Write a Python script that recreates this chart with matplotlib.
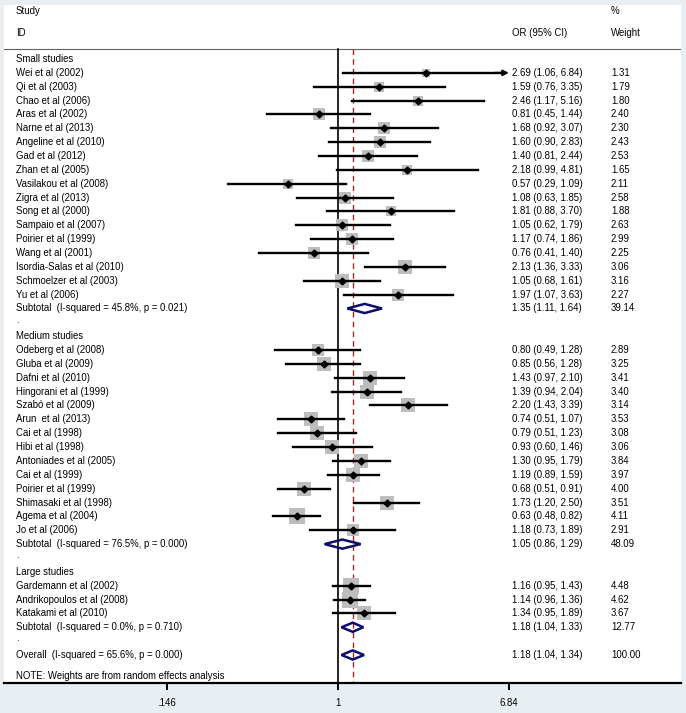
import numpy as np
import matplotlib
matplotlib.use("Agg")
import matplotlib.pyplot as plt
from matplotlib.transforms import blended_transform_factory
from matplotlib.patches import Polygon

plt.rcParams['font.family'] = ['Liberation Sans', 'DejaVu Sans']

# ---- data ----
small_ids = ["Wei et al (2002)", "Qi et al (2003)", "Chao et al (2006)", "Aras et al (2002)",
             "Narne et al (2013)", "Angeline et al (2010)", "Gad et al (2012)", "Zhan et al (2005)",
             "Vasilakou et al (2008)", "Zigra et al (2013)", "Song et al (2000)", "Sampaio et al (2007)",
             "Poirier et al (1999)", "Wang et al (2001)", "Isordia-Salas et al (2010)",
             "Schmoelzer et al (2003)", "Yu et al (2006)"]
small_or = [2.69, 1.59, 2.46, 0.81, 1.68, 1.60, 1.40, 2.18, 0.57, 1.08, 1.81, 1.05, 1.17, 0.76, 2.13, 1.05, 1.97]
small_lo = [1.06, 0.76, 1.17, 0.45, 0.92, 0.90, 0.81, 0.99, 0.29, 0.63, 0.88, 0.62, 0.74, 0.41, 1.36, 0.68, 1.07]
small_hi = [6.84, 3.35, 5.16, 1.44, 3.07, 2.83, 2.44, 4.81, 1.09, 1.85, 3.70, 1.79, 1.86, 1.40, 3.33, 1.61, 3.63]
small_w = [1.31, 1.79, 1.80, 2.40, 2.30, 2.43, 2.53, 1.65, 2.11, 2.58, 1.88, 2.63, 2.99, 2.25, 3.06, 3.16, 2.27]

medium_ids = ["Odeberg et al (2008)", "Gluba et al (2009)", "Dafni et al (2010)", "Hingorani et al (1999)",
              "Szabó et al (2009)", "Arun  et al (2013)", "Cai et al (1998)", "Hibi et al (1998)",
              "Antoniades et al (2005)", "Cai et al (1999)", "Poirier et al (1999)",
              "Shimasaki et al (1998)", "Agema et al (2004)", "Jo et al (2006)"]
medium_or = [0.80, 0.85, 1.43, 1.39, 2.20, 0.74, 0.79, 0.93, 1.30, 1.19, 0.68, 1.73, 0.63, 1.18]
medium_lo = [0.49, 0.56, 0.97, 0.94, 1.43, 0.51, 0.51, 0.60, 0.95, 0.89, 0.51, 1.20, 0.48, 0.73]
medium_hi = [1.28, 1.28, 2.10, 2.04, 3.39, 1.07, 1.23, 1.46, 1.79, 1.59, 0.91, 2.50, 0.82, 1.89]
medium_w = [2.89, 3.25, 3.41, 3.40, 3.14, 3.53, 3.08, 3.06, 3.84, 3.97, 4.00, 3.51, 4.11, 2.91]

large_ids = ["Gardemann et al (2002)", "Andrikopoulos et al (2008)", "Katakami et al (2010)"]
large_or = [1.16, 1.14, 1.34]
large_lo = [0.95, 0.96, 0.95]
large_hi = [1.43, 1.36, 1.89]
large_w = [4.48, 4.62, 3.67]

group_names = ["Small studies", "Medium studies", "Large studies"]
subtotal_labels = ["Subtotal  (I-squared = 45.8%, p = 0.021)",
                   "Subtotal  (I-squared = 76.5%, p = 0.000)",
                   "Subtotal  (I-squared = 0.0%, p = 0.710)"]
subtotal_or = [1.35, 1.05, 1.18]
subtotal_lo = [1.11, 0.86, 1.04]
subtotal_hi = [1.64, 1.29, 1.33]
subtotal_w = [39.14, 48.09, 12.77]

overall_label = "Overall  (I-squared = 65.6%, p = 0.000)"
overall_or, overall_lo, overall_hi, overall_w = 1.18, 1.04, 1.34, 100.00

tick_vals = [0.146, 1, 6.84]
tick_labels = [".146", "1", "6.84"]

groups = [
    (small_ids, small_or, small_lo, small_hi, small_w),
    (medium_ids, medium_or, medium_lo, medium_hi, medium_w),
    (large_ids, large_or, large_lo, large_hi, large_w),
]

# ---- figure ----
W, H = 686, 713
fig = plt.figure(figsize=(W / 100, H / 100), dpi=100, facecolor='#e8eef1')
ax = fig.add_axes([4 / W, 1 - 683 / H, 677 / W, 678 / H])
ax.set_facecolor('white')
ax.set_xscale('log')
# pixel layout: x=1 at px 338, 88.9 px per natural-log unit
ax.set_xlim(np.exp((4 - 338) / 88.9), np.exp((681 - 338) / 88.9))
row_h = 13.86
ax.set_ylim((683 - 59) / row_h, (5 - 59) / row_h)

for s in ['top', 'left', 'right']:
    ax.spines[s].set_visible(False)
ax.spines['bottom'].set_linewidth(1.6)
ax.set_yticks([])
ax.set_xticks(tick_vals)
ax.set_xticklabels(tick_labels)
ax.minorticks_off()
fs = 6.9
ax.tick_params(axis='x', direction='out', length=5, width=1.4, pad=6, labelsize=fs)

tr = blended_transform_factory(fig.transFigure, ax.transData)
x_lab, x_or, x_w = 16 / W, 512 / W, 611 / W


def row_text(y, label, est=None, lo=None, hi=None, w=None):
    ax.text(x_lab, y, label, transform=tr, fontsize=fs, va='center', ha='left')
    if est is not None:
        ax.text(x_or, y, f"{est:.2f} ({lo:.2f}, {hi:.2f})", transform=tr, fontsize=fs, va='center')
        ax.text(x_w, y, f"{w:.2f}", transform=tr, fontsize=fs, va='center')


def diamond(y, est, lo, hi):
    d = 0.33
    ax.add_patch(Polygon([(lo, y), (est, y - d), (hi, y), (est, y + d)], closed=True,
                         fill=False, edgecolor='#0d0d6b', lw=1.8, zorder=4))


# header
hdr_line = (49 - 59) / row_h
ax.text(x_lab, (11 - 59) / row_h, "Study", transform=tr, fontsize=fs, va='center')
ax.text(x_lab, (33 - 59) / row_h, "ID", transform=tr, fontsize=fs, va='center')
ax.text(x_or, (33 - 59) / row_h, "OR (95% CI)", transform=tr, fontsize=fs, va='center')
ax.text(x_w, (11 - 59) / row_h, "%", transform=tr, fontsize=fs, va='center')
ax.text(x_w, (33 - 59) / row_h, "Weight", transform=tr, fontsize=fs, va='center')
ax.axhline(hdr_line, color='#606060', lw=0.8)

y_bottom = ax.get_ylim()[0]
ax.plot([1, 1], [hdr_line, y_bottom], color='black', lw=1.2, zorder=2)
ax.plot([overall_or, overall_or], [hdr_line, y_bottom], color='#a02a2a', lw=1.0,
        dashes=(4, 3), zorder=2)

row = 0
for gi, (ids, ors, los, his, ws) in enumerate(groups):
    row_text(row, group_names[gi])
    row += 1
    for name, est, lo, hi, w in zip(ids, ors, los, his, ws):
        ax.scatter([est], [row], marker='s', s=29 * w, color='#bdbdbd', zorder=3, linewidths=0)
        if hi >= 6.84:
            ax.plot([lo, hi * 0.93], [row, row], color='black', lw=1.7, zorder=4)
            ax.annotate('', xy=(hi, row), xytext=(hi * 0.85, row),
                        arrowprops=dict(arrowstyle='-|>', color='black', lw=1.5,
                                        mutation_scale=8, shrinkA=0, shrinkB=0), zorder=4)
        else:
            ax.plot([lo, hi], [row, row], color='black', lw=1.7, zorder=4)
        ax.plot([est], [row], marker='D', color='black', markersize=3.5, zorder=5)
        row_text(row, name, est, lo, hi, w)
        row += 1
    diamond(row, subtotal_or[gi], subtotal_lo[gi], subtotal_hi[gi])
    row_text(row, subtotal_labels[gi], subtotal_or[gi], subtotal_lo[gi], subtotal_hi[gi], subtotal_w[gi])
    row += 1
    row_text(row - 0.2, ".")
    row += 1

diamond(row, overall_or, overall_lo, overall_hi)
row_text(row, overall_label, overall_or, overall_lo, overall_hi, overall_w)
row += 1
ax.text(x_lab, row + 0.55, "NOTE: Weights are from random effects analysis", transform=tr,
        fontsize=fs, va='center')

fig.savefig("out.png", dpi=100, facecolor=fig.get_facecolor())
